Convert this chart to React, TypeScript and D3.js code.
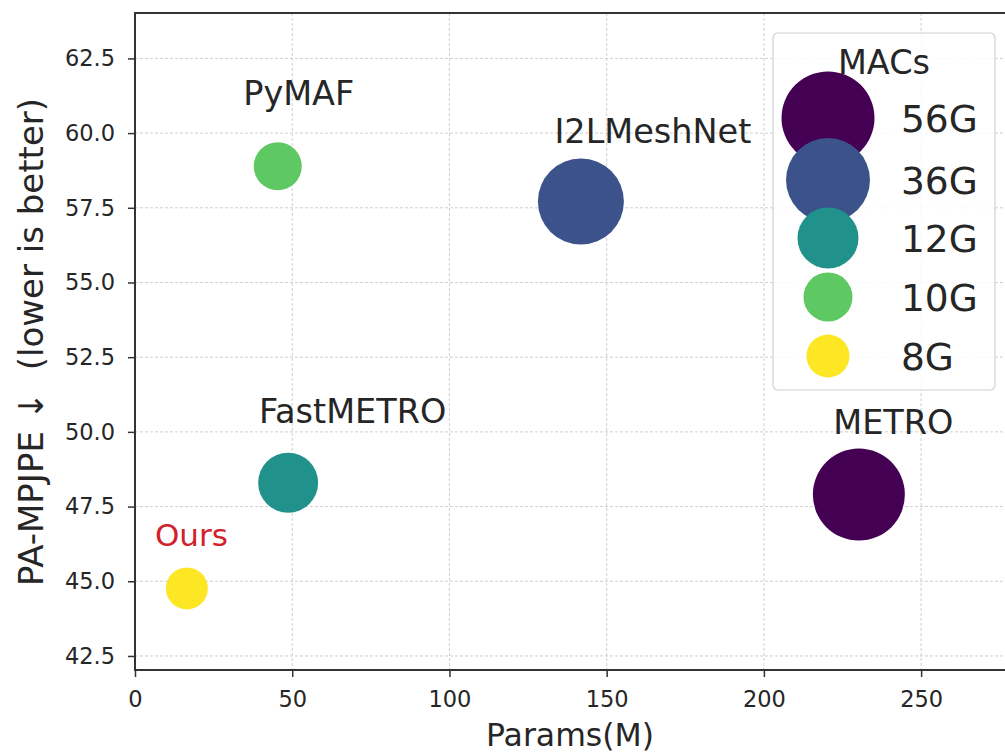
import React, { useEffect, useRef } from 'react';
import * as d3 from 'd3';

// methods
const methods = ['Ours', 'FastMETRO', 'PyMAF', 'I2LMeshNet', 'METRO'];
const params = [16.5, 48.7, 45.4, 141.8, 230.2];
const paMpjpe = [44.76, 48.3, 58.89, 57.71, 47.9];
const macs = [8, 12, 10, 36, 56];

const legendMacs = [56, 36, 12, 10, 8];
const xTicks = [0, 50, 100, 150, 200, 250];
const yTicks = [42.5, 45.0, 47.5, 50.0, 52.5, 55.0, 57.5, 60.0, 62.5];

const WIDTH = 1005;
const HEIGHT = 752;
const FONT = 'DejaVu Sans, sans-serif';
const INK = '#262626';

const App: React.FC = () => {
  const svgRef = useRef<SVGSVGElement>(null);

  useEffect(() => {
    if (!svgRef.current) return;
    const svg = d3.select(svgRef.current);
    svg.selectAll('*').remove();

    const plot = { left: 135, top: 13, right: 1012, bottom: 670 };

    const x = d3.scaleLinear().domain([0, 278.9]).range([plot.left, plot.right]);
    const y = d3.scaleLinear().domain([42.03, 64.02]).range([plot.bottom, plot.top]);

    const order = [...legendMacs];
    const color = d3.scaleOrdinal<number, string>()
      .domain(order)
      .range(order.map((_, i) => d3.interpolateViridis(i / (order.length - 1))));
    const radius = d3.scaleOrdinal<number, number>()
      .domain(order)
      .range([46, 43, 30, 24, 21]);

    svg.append('rect')
      .attr('width', WIDTH).attr('height', HEIGHT).attr('fill', '#fff');

    // grid
    const grid = svg.append('g').attr('stroke', '#cfcfcf').attr('stroke-width', 1)
      .attr('stroke-dasharray', '3,2');
    grid.selectAll('line.gx').data(xTicks).enter().append('line')
      .attr('x1', d => x(d)).attr('x2', d => x(d))
      .attr('y1', plot.top).attr('y2', plot.bottom);
    grid.selectAll('line.gy').data(yTicks).enter().append('line')
      .attr('x1', plot.left).attr('x2', plot.right)
      .attr('y1', d => y(d)).attr('y2', d => y(d));

    // axes
    const xAxis = svg.append('g')
      .attr('transform', `translate(0,${plot.bottom})`)
      .call(d3.axisBottom(x).tickValues(xTicks).tickFormat(d3.format('d')).tickSizeOuter(0).tickSize(7).tickPadding(14));
    const yAxis = svg.append('g')
      .attr('transform', `translate(${plot.left},0)`)
      .call(d3.axisLeft(y).tickValues(yTicks).tickFormat(d3.format('.1f')).tickSizeOuter(0).tickSize(7).tickPadding(13));
    [xAxis, yAxis].forEach(a => {
      a.select('.domain').remove();
      a.selectAll('line').attr('stroke', '#333').attr('stroke-width', 1.5);
      a.selectAll('text').attr('fill', INK).style('font-family', FONT).style('font-size', '22.5px');
    });

    // frame
    svg.append('rect')
      .attr('x', plot.left).attr('y', plot.top)
      .attr('width', plot.right - plot.left).attr('height', plot.bottom - plot.top)
      .attr('fill', 'none').attr('stroke', '#333').attr('stroke-width', 2);

    // bubbles
    const idx = d3.range(methods.length);
    svg.append('g').selectAll('circle').data(idx).enter().append('circle')
      .attr('cx', i => x(params[i]))
      .attr('cy', i => y(paMpjpe[i]))
      .attr('r', i => radius(macs[i]))
      .attr('fill', i => color(macs[i]));

    // point labels (pixel offsets from the bubble)
    const labelOffset: [number, number][] = [[4.5, -42], [64.5, -60], [21, -61], [72, -59], [34.5, -61]];
    svg.append('g').selectAll('text').data(idx).enter().append('text')
      .attr('x', i => x(params[i]) + labelOffset[i][0])
      .attr('y', i => y(paMpjpe[i]) + labelOffset[i][1])
      .attr('text-anchor', 'middle')
      .attr('fill', i => (methods[i] === 'Ours' ? '#d0212c' : INK))
      .style('font-family', FONT)
      .style('font-size', i => (methods[i] === 'Ours' ? '31px' : '33.5px'))
      .text(i => methods[i]);

    // axis titles
    svg.append('text')
      .attr('x', 570).attr('y', 746)
      .attr('text-anchor', 'middle').attr('fill', INK)
      .style('font-family', FONT).style('font-size', '31.5px')
      .text('Params(M)');
    svg.append('text')
      .attr('transform', `translate(43,342) rotate(-90)`)
      .attr('text-anchor', 'middle').attr('fill', INK)
      .style('font-family', FONT).style('font-size', '34px')
      .style('white-space', 'pre')
      .text('PA-MPJPE \u2193  (lower is better)');

    // legend
    const lg = svg.append('g');
    lg.append('rect')
      .attr('x', 773).attr('y', 33).attr('width', 222).attr('height', 357)
      .attr('rx', 5).attr('fill', '#fff').attr('fill-opacity', 0.85)
      .attr('stroke', '#d0d0d0').attr('stroke-width', 1.2);
    lg.append('text')
      .attr('x', 884).attr('y', 74).attr('text-anchor', 'middle').attr('fill', INK)
      .style('font-family', FONT).style('font-size', '33.5px')
      .text('MACs');
    const rowYs = [118, 180, 238, 297, 356];
    const legendR = [46.5, 42, 30.5, 24.5, 21.5];
    lg.selectAll('circle').data(legendMacs).enter().append('circle')
      .attr('cx', 828)
      .attr('cy', (_, i) => rowYs[i])
      .attr('r', (_, i) => legendR[i])
      .attr('fill', d => color(d));
    lg.selectAll('text.lab').data(legendMacs).enter().append('text')
      .attr('class', 'lab')
      .attr('x', 901)
      .attr('y', (_, i) => rowYs[i] + 13.5)
      .attr('fill', INK)
      .style('font-family', FONT).style('font-size', '37.5px')
      .text(d => `${d}G`);
  }, []);

  return (
    <svg
      ref={svgRef}
      width={WIDTH}
      height={HEIGHT}
      style={{ position: 'absolute', left: 0, top: 0, display: 'block' }}
    />
  );
};

export default App;
